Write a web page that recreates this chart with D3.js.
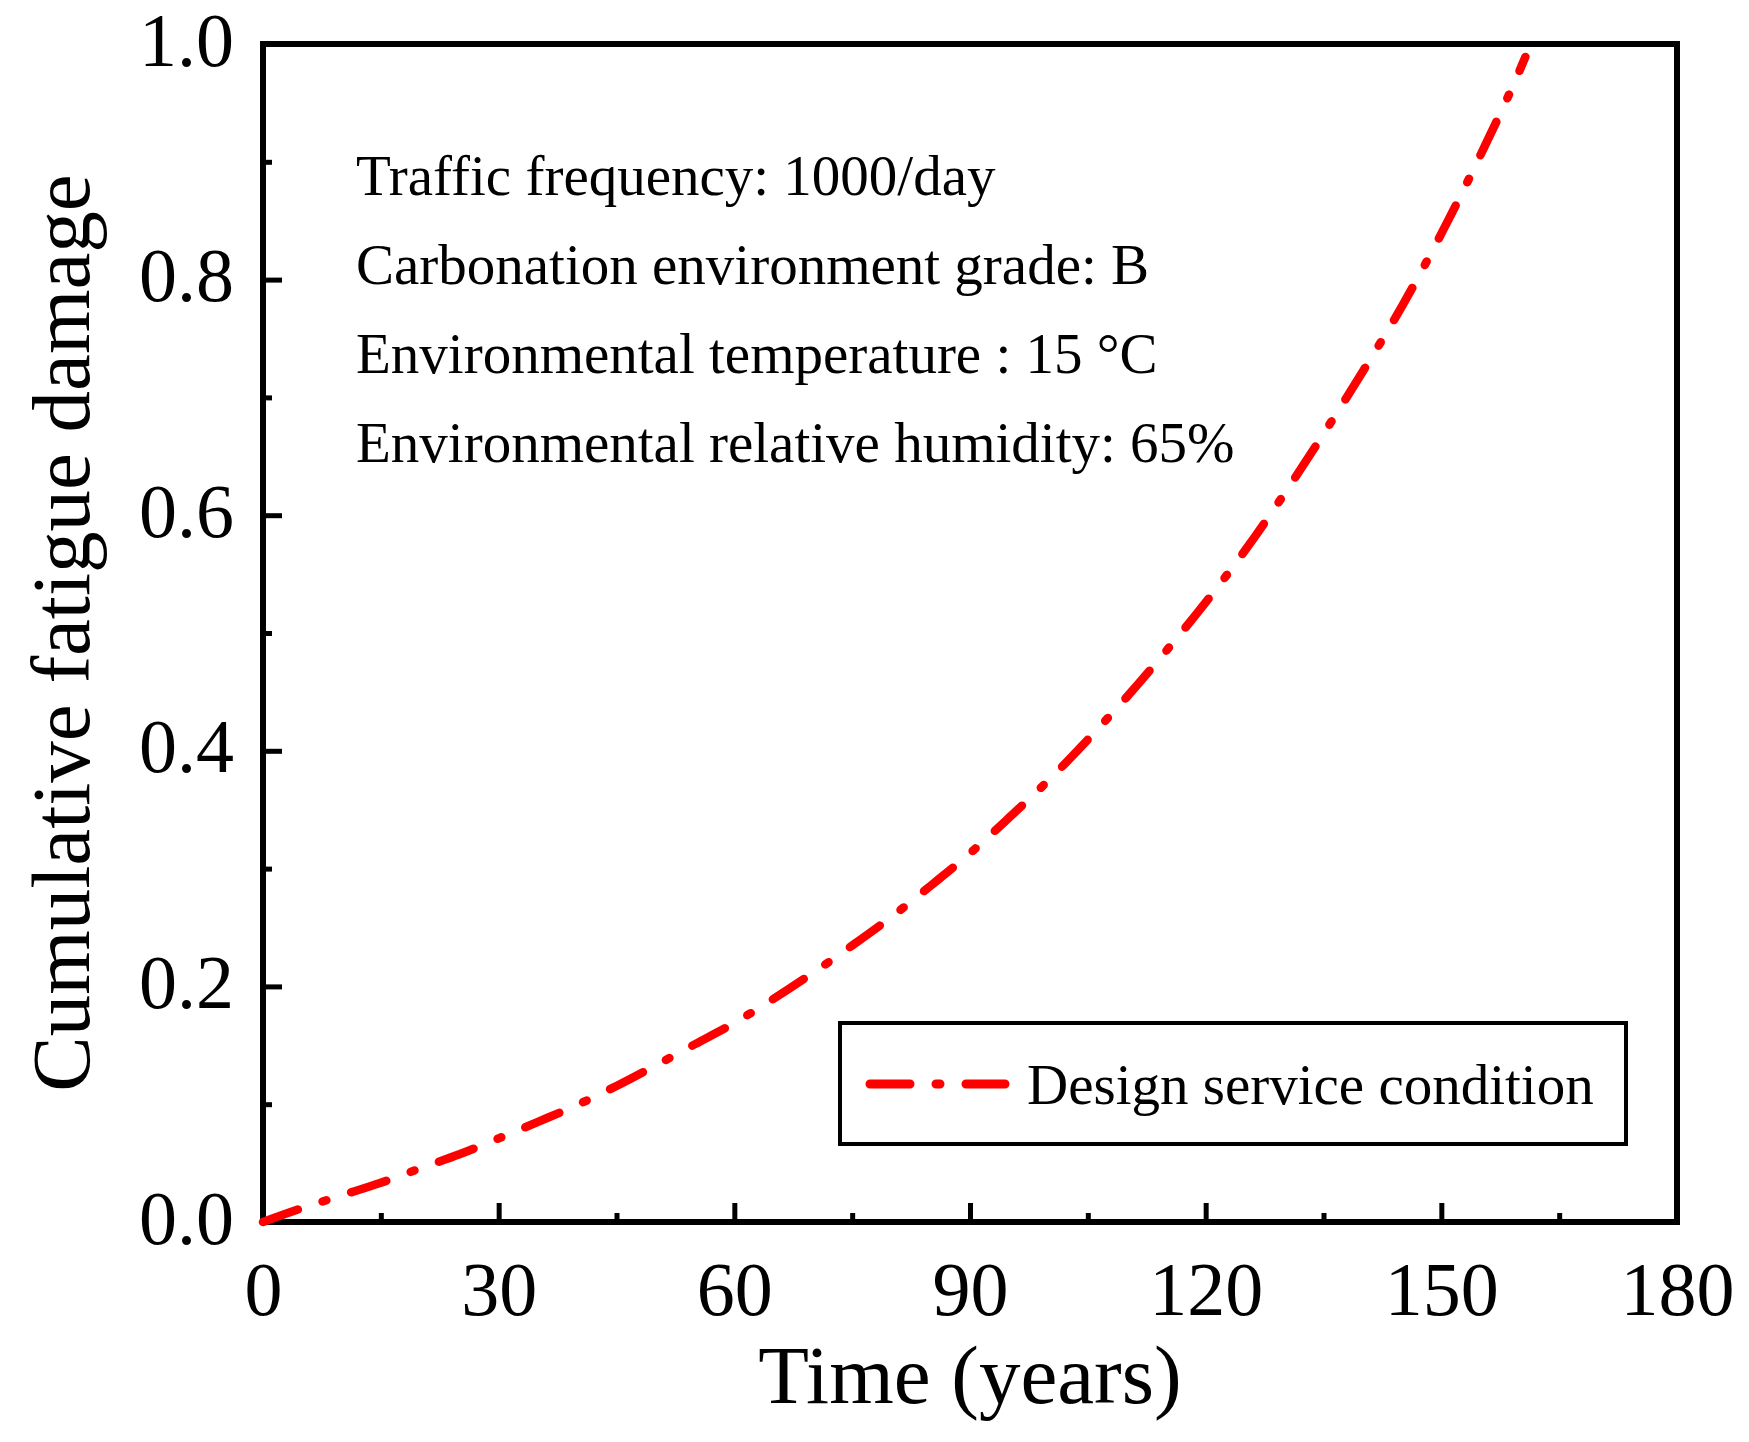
<html>
<head>
<meta charset="utf-8">
<title>fatigue damage</title>
<script src="https://cdn.jsdelivr.net/npm/d3@7/dist/d3.min.js"></script>
<style>
body { margin: 0; background: white; }
text { font-family: "Liberation Serif", "Times New Roman", serif; fill: black; }
</style>
</head>
<body>
<svg id="chart"></svg>
<script>

// data
var years  = [0, 5, 10, 15, 20, 25, 30, 35, 40, 45, 50, 55, 60, 65, 70, 75, 80, 85,
              90, 95, 100, 105, 110, 115, 120, 125, 130, 135, 140, 145, 150, 155, 160, 160.7];
var damage = [0, 0.0118, 0.0226, 0.0333, 0.0455, 0.0575, 0.071, 0.085, 0.0994, 0.1155,
              0.133, 0.151, 0.169, 0.1895, 0.2115, 0.2347, 0.259, 0.2855, 0.313, 0.3434,
              0.375, 0.4095, 0.446, 0.485, 0.526, 0.570, 0.618, 0.669, 0.722, 0.7775,
              0.839, 0.906, 0.978, 0.989];

var x_ticks = [0, 30, 60, 90, 120, 150, 180];
var x_minor = [15, 45, 75, 105, 135, 165];
var y_ticks = [0, 0.2, 0.4, 0.6, 0.8, 1.0];
var y_minor = [0.1, 0.3, 0.5, 0.7, 0.9];

var notes = ["Traffic frequency: 1000/day",
             "Carbonation environment grade: B",
             "Environmental temperature : 15 \u00B0C",
             "Environmental relative humidity: 65%"];
var series_name = "Design service condition";
var x_title = "Time (years)";
var y_title = "Cumulative fatigue damage";

var svg_width = 1749, svg_height = 1442;
var plot_left = 263, plot_right = 1677, plot_top = 44, plot_bottom = 1222;

var svg = d3.select("#chart").attr("width", svg_width).attr("height", svg_height);

var x = d3.scaleLinear().domain([0, 180]).range([plot_left, plot_right]);
var y = d3.scaleLinear().domain([0, 1]).range([plot_bottom, plot_top]);

// bottom axis, ticks pointing inward
var xa = svg.append("g").attr("transform", "translate(0," + plot_bottom + ")")
  .call(d3.axisBottom(x).tickValues(x_ticks).tickSize(-19).tickPadding(0).tickFormat(d3.format("d")));
xa.append("g").call(d3.axisBottom(x).tickValues(x_minor).tickSize(-9).tickFormat(""));
xa.selectAll("path.domain").remove();
xa.selectAll("line").attr("stroke", "black").attr("stroke-width", 5);
xa.selectAll("text").attr("y", 93).attr("dy", null)
  .style("font-size", "76px").attr("fill", "black");

// left axis
var ya = svg.append("g").attr("transform", "translate(" + plot_left + ",0)")
  .call(d3.axisLeft(y).tickValues(y_ticks).tickSize(-19).tickPadding(0).tickFormat(d3.format(".1f")));
ya.append("g").call(d3.axisLeft(y).tickValues(y_minor).tickSize(-9).tickFormat(""));
ya.selectAll("path.domain").remove();
ya.selectAll("line").attr("stroke", "black").attr("stroke-width", 5);
ya.selectAll("text").attr("x", -29).attr("dy", null).attr("y", 21)
  .attr("text-anchor", "end").style("font-size", "76px").attr("fill", "black");

// frame
svg.append("rect")
  .attr("x", plot_left).attr("y", plot_top)
  .attr("width", plot_right - plot_left).attr("height", plot_bottom - plot_top)
  .attr("fill", "none").attr("stroke", "black").attr("stroke-width", 6);

// axis titles
svg.append("text").attr("x", (plot_left + plot_right) / 2).attr("y", 1403)
  .attr("text-anchor", "middle").style("font-size", "83px").text(x_title);
svg.append("g").attr("transform", "translate(89 " + (plot_top + plot_bottom) / 2 + ") rotate(-90)")
  .append("text").attr("x", 0).attr("y", 0)
  .attr("text-anchor", "middle").style("font-size", "83px").text(y_title);

// condition notes
svg.append("g").selectAll("text").data(notes).enter()
  .append("text")
  .attr("x", 356)
  .attr("y", function(d, i) { return 195 + i * 89; })
  .style("font-size", "57px")
  .text(function(d) { return d; });

// curve
var line = d3.line()
  .x(function(d, i) { return x(years[i]); })
  .y(function(d) { return y(d); })
  .curve(d3.curveMonotoneX);

svg.append("path").datum(damage)
  .attr("d", line)
  .attr("fill", "none")
  .attr("stroke", "#ff0000")
  .attr("stroke-width", 8.5)
  .attr("stroke-linecap", "round")
  .attr("stroke-dasharray", "37,26,4,26");

// legend
var legend = svg.append("g");
legend.append("rect")
  .attr("x", 840).attr("y", 1023).attr("width", 786).attr("height", 121)
  .attr("fill", "white").attr("stroke", "black").attr("stroke-width", 4);
legend.append("line")
  .attr("x1", 870).attr("x2", 1005).attr("y1", 1084).attr("y2", 1084)
  .attr("stroke", "#ff0000").attr("stroke-width", 9)
  .attr("stroke-linecap", "round").attr("stroke-dasharray", "40,26,4,26");
legend.append("text").attr("x", 1027).attr("y", 1104)
  .style("font-size", "57px").text(series_name);

</script>
</body>
</html>
